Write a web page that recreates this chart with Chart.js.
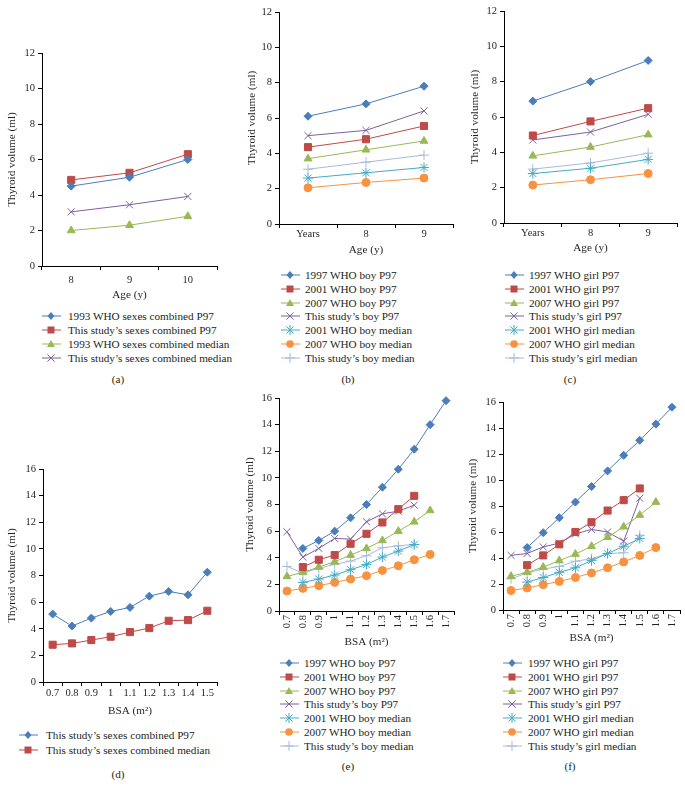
<!DOCTYPE html>
<html>
<head>
<meta charset="utf-8">
<script src="https://cdn.jsdelivr.net/npm/chart.js@4/dist/chart.umd.min.js"></script>
<style>
  body { margin: 0; background: #fff; width: 685px; height: 789px; position: relative; overflow: hidden;
         font-family: 'Liberation Serif', 'DejaVu Serif', serif; color: #231f20; }
  canvas { position: absolute; }
  .leg { position: absolute; font-size: 11.2px; line-height: 14px; white-space: nowrap; height: 14px; }
  .leg svg { position: absolute; left: 0; top: 0; }
  .leg span { position: absolute; top: 0; }
  .plabel { position: absolute; font-size: 11.2px; transform: translateX(-50%); }
</style>
</head>
<body>
<canvas id="chartA"></canvas>
<canvas id="chartB"></canvas>
<canvas id="chartC"></canvas>
<canvas id="chartD"></canvas>
<canvas id="chartE"></canvas>
<canvas id="chartF"></canvas>
<script>
// categories
const ageCatsA = ['8', '9', '10'];
const ageCatsBC = ['Years', '8', '9'];
const bsaCatsD = ['0.7', '0.8', '0.9', '1', '1.1', '1.2', '1.3', '1.4', '1.5'];
const bsaCatsEF = ['0.7', '0.8', '0.9', '1', '1.1', '1.2', '1.3', '1.4', '1.5', '1.6', '1.7'];

// (a) sexes combined, by age
const namesA = ['1993 WHO sexes combined P97', 'This study\u2019s sexes combined P97',
                '1993 WHO sexes combined median', 'This study\u2019s sexes combined median'];
const a_who93P97 = [4.5, 5.0, 6.0];
const a_studyP97 = [4.85, 5.25, 6.3];
const a_who93Median = [2.0, 2.3, 2.8];
const a_studyMedian = [3.05, 3.45, 3.92];

// (b) boys, by age
const namesB = ['1997 WHO boy P97', '2001 WHO boy P97', '2007 WHO boy P97', 'This study\u2019s boy P97',
                '2001 WHO boy median', '2007 WHO boy median', 'This study\u2019s boy median'];
const b_who97P97 = [6.1, 6.8, 7.8];
const b_who01P97 = [4.35, 4.8, 5.55];
const b_who07P97 = [3.7, 4.2, 4.7];
const b_studyP97 = [5.0, 5.3, 6.4];
const b_who01Median = [2.6, 2.9, 3.2];
const b_who07Median = [2.05, 2.35, 2.6];
const b_studyMedian = [3.1, 3.5, 3.9];

// (c) girls, by age
const namesC = ['1997 WHO girl P97', '2001 WHO girl P97', '2007 WHO girl P97', 'This study\u2019s girl P97',
                '2001 WHO girl median', '2007 WHO girl median', 'This study\u2019s girl median'];
const c_who97P97 = [6.9, 8.0, 9.2];
const c_who01P97 = [4.95, 5.75, 6.5];
const c_who07P97 = [3.8, 4.3, 5.0];
const c_studyP97 = [4.7, 5.15, 6.15];
const c_who01Median = [2.8, 3.1, 3.6];
const c_who07Median = [2.15, 2.45, 2.8];
const c_studyMedian = [3.05, 3.4, 3.95];

// (d) sexes combined, by BSA
const namesD = ['This study\u2019s sexes combined P97', 'This study\u2019s sexes combined median'];
const d_studyP97 = [5.1, 4.2, 4.8, 5.3, 5.6, 6.45, 6.8, 6.55, 8.25];
const d_studyMedian = [2.8, 2.9, 3.15, 3.4, 3.75, 4.05, 4.6, 4.65, 5.35];

// (e) boys, by BSA
const e_who97P97 = [null, 4.7, 5.3, 6.0, 7.0, 8.0, 9.3, 10.65, 12.15, 14.0, 15.8];
const e_who01P97 = [null, 3.3, 3.85, 4.2, 5.05, 5.8, 6.65, 7.65, 8.65, null, null];
const e_who07P97 = [2.6, 2.9, 3.3, 3.7, 4.2, 4.7, 5.3, 6.0, 6.7, 7.55, null];
const e_studyP97 = [5.95, 4.05, 4.7, 5.45, 5.4, 6.7, 7.3, 7.5, 7.95, null, null];
const e_who01Median = [null, 2.15, 2.4, 2.7, 3.1, 3.5, 4.05, 4.5, 5.0, null, null];
const e_who07Median = [1.5, 1.7, 1.9, 2.15, 2.4, 2.65, 3.05, 3.4, 3.85, 4.25, null];
const e_studyMedian = [3.35, 2.85, 3.2, 3.5, 3.75, 4.15, 4.75, 4.9, 5.0, null, null];

// (f) girls, by BSA
const f_who97P97 = [null, 4.8, 5.95, 7.1, 8.3, 9.5, 10.7, 11.9, 13.05, 14.3, 15.6];
const f_who01P97 = [null, 3.45, 4.2, 5.05, 6.0, 6.75, 7.65, 8.45, 9.35, null, null];
const f_who07P97 = [2.6, 2.9, 3.3, 3.8, 4.3, 4.9, 5.6, 6.4, 7.3, 8.3, null];
const f_studyP97 = [4.2, 4.35, 4.85, 5.15, 5.85, 6.2, 6.0, 5.3, 8.6, null, null];
const f_who01Median = [null, 2.15, 2.5, 2.9, 3.25, 3.8, 4.35, 4.9, 5.5, null, null];
const f_who07Median = [1.5, 1.7, 1.95, 2.2, 2.5, 2.85, 3.25, 3.7, 4.2, 4.8, null];
const f_studyMedian = [2.4, 2.85, 3.15, 3.35, 3.75, 3.95, 4.35, 4.4, 5.75, null, null];

// series look, same order in every panel
const seriesStyles = [
    { color: '#4A7EBB', point: 'rectRot', r: 4 },
    { color: '#BE4B48', point: 'rect', r: 5 },
    { color: '#98B954', point: 'triangle', r: 4.5 },
    { color: '#7D60A0', point: 'crossRot', r: 5 },
    { color: '#46AAC5', point: 'star', r: 5 },
    { color: '#F69240', point: 'circle', r: 4 },
    { color: '#A9BAD9', point: 'cross', r: 5 }
];

const textColor = '#231f20';
const serif = "'Liberation Serif', 'DejaVu Serif', serif";
const tickFont = { family: serif, size: 10.5 };
const titleFont = { family: serif, size: 11.2 };

function makePanel(id, p) {
    const yW = 40, padTop = 10, padRight = 6;
    const canvas = document.getElementById(id);
    const w = yW + (p.x1 - p.x0) + padRight;
    const h = padTop + (p.yBottom - p.yTop) + p.xH;
    canvas.width = w;
    canvas.height = h;
    canvas.style.left = (p.x0 - yW) + 'px';
    canvas.style.top = (p.yTop - padTop) + 'px';

    const datasets = p.series.map((data, i) => {
        const s = seriesStyles[i];
        return {
            label: p.names[i],
            data: data,
            borderColor: s.color,
            backgroundColor: s.color,
            pointBackgroundColor: s.color,
            pointBorderColor: s.color,
            pointStyle: s.point,
            pointRadius: s.r,
            pointBorderWidth: 1,
            borderWidth: 1,
            tension: 0,
            spanGaps: false,
            clip: false
        };
    });

    new Chart(canvas, {
        type: 'line',
        data: { labels: p.labels, datasets: datasets },
        options: {
            responsive: false,
            animation: false,
            layout: { padding: { top: padTop, right: padRight, left: 0, bottom: 0 } },
            plugins: { legend: { display: false }, tooltip: { enabled: false } },
            scales: {
                x: {
                    type: 'category',
                    offset: true,
                    grid: { display: true, offset: true, drawOnChartArea: false, drawTicks: true, tickLength: 4, color: '#000' },
                    border: { color: '#000', width: 1 },
                    ticks: {
                        color: textColor, font: tickFont, padding: p.xTickPad, autoSkip: false,
                        minRotation: p.rotate ? 90 : 0, maxRotation: p.rotate ? 90 : 0
                    },
                    title: { display: true, text: p.xTitle, color: textColor, font: titleFont, padding: { top: 0, bottom: 0 } },
                    afterFit: scale => { scale.height = p.xH; }
                },
                y: {
                    min: 0, max: p.yMax,
                    grid: { display: true, drawOnChartArea: false, drawTicks: true, tickLength: 4, color: '#000' },
                    border: { color: '#000', width: 1 },
                    ticks: { stepSize: 2, color: textColor, font: tickFont, padding: 3 },
                    title: { display: true, text: 'Thyroid volume (ml)', color: textColor, font: titleFont, padding: { top: p.yTitlePad, bottom: 0 } },
                    afterFit: scale => { scale.width = yW; }
                }
            }
        }
    });
}

function markerSvg(s) {
    const cx = 9, cy = 7, c = s.color;
    let m = '';
    if (s.point === 'rectRot') m = `<polygon points="${cx},${cy - 4} ${cx + 3.5},${cy} ${cx},${cy + 4} ${cx - 3.5},${cy}" fill="${c}"/>`;
    else if (s.point === 'rect') m = `<rect x="${cx - 3.5}" y="${cy - 3.5}" width="7" height="7" fill="${c}"/>`;
    else if (s.point === 'triangle') m = `<polygon points="${cx},${cy - 4} ${cx + 4},${cy + 3} ${cx - 4},${cy + 3}" fill="${c}"/>`;
    else if (s.point === 'circle') m = `<circle cx="${cx}" cy="${cy}" r="3.8" fill="${c}"/>`;
    else {
        const d = 3.6, parts = [];
        if (s.point === 'crossRot' || s.point === 'star') {
            parts.push(`M${cx - d} ${cy - d}L${cx + d} ${cy + d}`, `M${cx - d} ${cy + d}L${cx + d} ${cy - d}`);
        }
        if (s.point === 'cross' || s.point === 'star') {
            parts.push(`M${cx} ${cy - 5}L${cx} ${cy + 5}`);
        }
        if (s.point === 'cross') parts.push(`M${cx - 5} ${cy}L${cx + 5} ${cy}`);
        m = `<path d="${parts.join('')}" stroke="${c}" stroke-width="1" fill="none"/>`;
    }
    return `<svg width="19" height="14"><line x1="0" y1="${cy}" x2="19" y2="${cy}" stroke="${c}" stroke-width="1"/>${m}</svg>`;
}

function addLegend(names, left, textLeft, firstY, step) {
    names.forEach((name, i) => {
        const div = document.createElement('div');
        div.className = 'leg';
        div.style.left = left + 'px';
        div.style.top = (firstY + i * step - 7) + 'px';
        div.innerHTML = markerSvg(seriesStyles[i]) + `<span style="left:${textLeft - left}px">${name}</span>`;
        document.body.appendChild(div);
    });
}

function addPanelLabel(text, x, y) {
    const div = document.createElement('div');
    div.className = 'plabel';
    div.style.left = x + 'px';
    div.style.top = (y - 7) + 'px';
    div.textContent = text;
    document.body.appendChild(div);
}

makePanel('chartA', {
    x0: 42, x1: 217, yTop: 53, yBottom: 266, xH: 36, yMax: 12, yTitlePad: 3.4, xTickPad: 4,
    labels: ageCatsA, xTitle: 'Age (y)', names: namesA,
    series: [a_who93P97, a_studyP97, a_who93Median, a_studyMedian]
});
makePanel('chartB', {
    x0: 279, x1: 453, yTop: 12, yBottom: 224, xH: 33, yMax: 12, yTitlePad: 6, xTickPad: 0,
    labels: ageCatsBC, xTitle: 'Age (y)', names: namesB,
    series: [b_who97P97, b_who01P97, b_who07P97, b_studyP97, b_who01Median, b_who07Median, b_studyMedian]
});
makePanel('chartC', {
    x0: 504, x1: 677, yTop: 11, yBottom: 223, xH: 32, yMax: 12, yTitlePad: 4.4, xTickPad: 0,
    labels: ageCatsBC, xTitle: 'Age (y)', names: namesC,
    series: [c_who97P97, c_who01P97, c_who07P97, c_studyP97, c_who01Median, c_who07Median, c_studyMedian]
});
makePanel('chartD', {
    x0: 43, x1: 217, yTop: 469, yBottom: 682, xH: 36, yMax: 16, yTitlePad: 2.4, xTickPad: 1,
    labels: bsaCatsD, xTitle: 'BSA (m\u00b2)', names: namesD,
    series: [d_studyP97, d_studyMedian]
});
makePanel('chartE', {
    x0: 279, x1: 454, yTop: 398, yBottom: 611, xH: 38, yMax: 16, yTitlePad: 4.4, xTickPad: 0, rotate: true,
    labels: bsaCatsEF, xTitle: 'BSA (m\u00b2)', names: namesB,
    series: [e_who97P97, e_who01P97, e_who07P97, e_studyP97, e_who01Median, e_who07Median, e_studyMedian]
});
makePanel('chartF', {
    x0: 503, x1: 680, yTop: 402, yBottom: 610, xH: 35, yMax: 16, yTitlePad: 3.4, xTickPad: 0, rotate: true,
    labels: bsaCatsEF, xTitle: 'BSA (m\u00b2)', names: namesC,
    series: [f_who97P97, f_who01P97, f_who07P97, f_studyP97, f_who01Median, f_who07Median, f_studyMedian]
});

addLegend(namesA, 42, 68, 316, 14);
addLegend(namesB, 281, 305, 275, 13.8);
addLegend(namesC, 505, 529, 275, 13.8);
addLegend(namesD, 19, 46, 735, 15);
addLegend(namesB, 280, 304, 663, 13.8);
addLegend(namesC, 503, 528, 663, 13.8);

addPanelLabel('(a)', 118, 380);
addPanelLabel('(b)', 348, 380);
addPanelLabel('(c)', 570, 380);
addPanelLabel('(d)', 118, 775);
addPanelLabel('(e)', 348, 767);
addPanelLabel('(f)', 570, 767);
</script>
</body>
</html>
